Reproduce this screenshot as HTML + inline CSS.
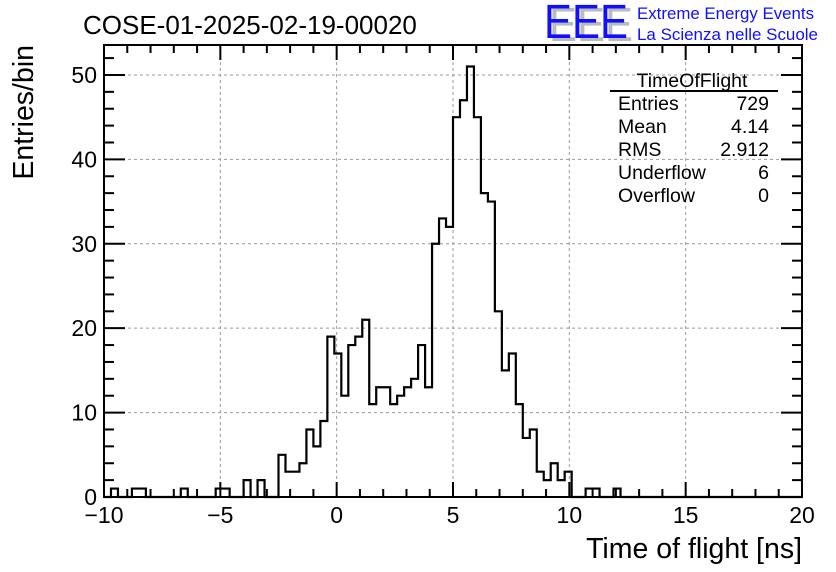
<!DOCTYPE html>
<html><head><meta charset="utf-8"><style>
html,body{margin:0;padding:0;background:#fff;}
svg{display:block;font-family:"Liberation Sans",sans-serif;}
</style></head><body>
<svg id="c" width="836" height="572" viewBox="0 0 836 572">
<rect width="836" height="572" fill="#fff"/>
<text x="83" y="34" font-size="26">COSE-01-2025-02-19-00020</text>
<g>
<text x="549" y="41" font-size="48" fill="#bbb" textLength="84" lengthAdjust="spacingAndGlyphs">EEE</text>
<text x="544" y="38" font-size="48" fill="#1010ff" textLength="84" lengthAdjust="spacingAndGlyphs">EEE</text>
<text x="637" y="19" font-size="16.5" fill="#1010ff" textLength="177" lengthAdjust="spacingAndGlyphs">Extreme Energy Events</text>
<text x="637" y="40" font-size="16.5" fill="#1010ff" textLength="181" lengthAdjust="spacingAndGlyphs">La Scienza nelle Scuole</text>
</g>
<g id="grid"></g>
<g id="axes"></g>
<path id="hist" fill="none" stroke="#000" stroke-width="2.2"/>
<rect x="104" y="45" width="698" height="452" fill="none" stroke="#000" stroke-width="2"/>
<g font-size="19.5">
<text x="692" y="87" text-anchor="middle">TimeOfFlight</text>
<line x1="610" y1="91" x2="778" y2="91" stroke="#000" stroke-width="2"/>
<text x="618" y="110">Entries</text><text x="769" y="110" text-anchor="end">729</text>
<text x="618" y="133">Mean</text><text x="769" y="133" text-anchor="end">4.14</text>
<text x="618" y="156">RMS</text><text x="769" y="156" text-anchor="end">2.912</text>
<text x="618" y="179">Underflow</text><text x="769" y="179" text-anchor="end">6</text>
<text x="618" y="202">Overflow</text><text x="769" y="202" text-anchor="end">0</text>
</g>
<text x="802" y="558" font-size="28.5" text-anchor="end">Time of flight [ns]</text>
<text transform="translate(33,45) rotate(-90)" font-size="28.5" text-anchor="end">Entries/bin</text>
</svg>
<script>
const binLow = -10;
const binWidth = 0.3;
const counts = [0,1,0,0,1,1,0,0,0,0,0,1,0,0,0,0,1,1,0,0,2,0,2,0,0,5,3,3,4,8,6,9,19,17,12,18,19,21,11,13,13,11,12,13,14,18,13,30,33,32,45,47,51,45,36,35,22,15,17,11,7,8,3,2,4,2,3,0,0,1,1,0,0,1,0,0,0,0,0,0,0,0,0,0,0,0,0,0,0,0,0,0,0,0,0,0,0,0,0,0];
const xTicks = [-10,-5,0,5,10,15,20];
const yTicks = [0,10,20,30,40,50];
const X0=104,X1=802,Y0=497,Y1=45,XMIN=-10,XMAX=20,YMAX=53.55;
const sx=v=>X0+(v-XMIN)/(XMAX-XMIN)*(X1-X0);
const sy=v=>Y0-v/YMAX*(Y0-Y1);
const NS='http://www.w3.org/2000/svg';
function mk(tag,attrs,parent){const e=document.createElementNS(NS,tag);for(const k in attrs)e.setAttribute(k,attrs[k]);parent.appendChild(e);return e;}
const grid=document.getElementById('grid'), axes=document.getElementById('axes');
xTicks.forEach(t=>{
  if(t>XMIN&&t<XMAX){const l=mk('line',{x1:sx(t),x2:sx(t),y1:Y0,y2:Y1,stroke:'#999','stroke-dasharray':'3,3','stroke-width':1},grid);
  
  }
  const tx=mk('text',{x:sx(t),y:523,'font-size':23,'text-anchor':'middle'},axes);
  tx.textContent=t<0?'\u2212'+(-t):String(t);
  
  
});
yTicks.forEach(t=>{
  if(t>0){const l=mk('line',{x1:X0,x2:X1,y1:sy(t),y2:sy(t),stroke:'#999','stroke-dasharray':'3,3','stroke-width':1},grid);
  
  }
  const tx=mk('text',{x:97,y:sy(t)+8,'font-size':23,'text-anchor':'end'},axes);
  tx.textContent=String(t);
  
  
});
for(let v=XMIN;v<=XMAX;v++){const maj=v%5===0;const L=maj?15:8;
  mk('line',{x1:sx(v),x2:sx(v),y1:Y0,y2:Y0-L,stroke:'#000','stroke-width':2},axes);
  mk('line',{x1:sx(v),x2:sx(v),y1:Y1,y2:Y1+L,stroke:'#000','stroke-width':2},axes);}
for(let v=0;v<=YMAX;v+=2){const maj=v%10===0;const L=maj?21:10;
  mk('line',{x1:X0,x2:X0+L,y1:sy(v),y2:sy(v),stroke:'#000','stroke-width':2},axes);
  mk('line',{x1:X1,x2:X1-L,y1:sy(v),y2:sy(v),stroke:'#000','stroke-width':2},axes);}
let d='M'+sx(binLow)+','+sy(0);
counts.forEach((c,i)=>{const a=sx(binLow+i*binWidth),b=sx(binLow+(i+1)*binWidth);d+=' L'+a+','+sy(c)+' L'+b+','+sy(c);});
d+=' L'+sx(binLow+counts.length*binWidth)+','+sy(0);
document.getElementById('hist').setAttribute('d',d);
</script>
</body></html>
